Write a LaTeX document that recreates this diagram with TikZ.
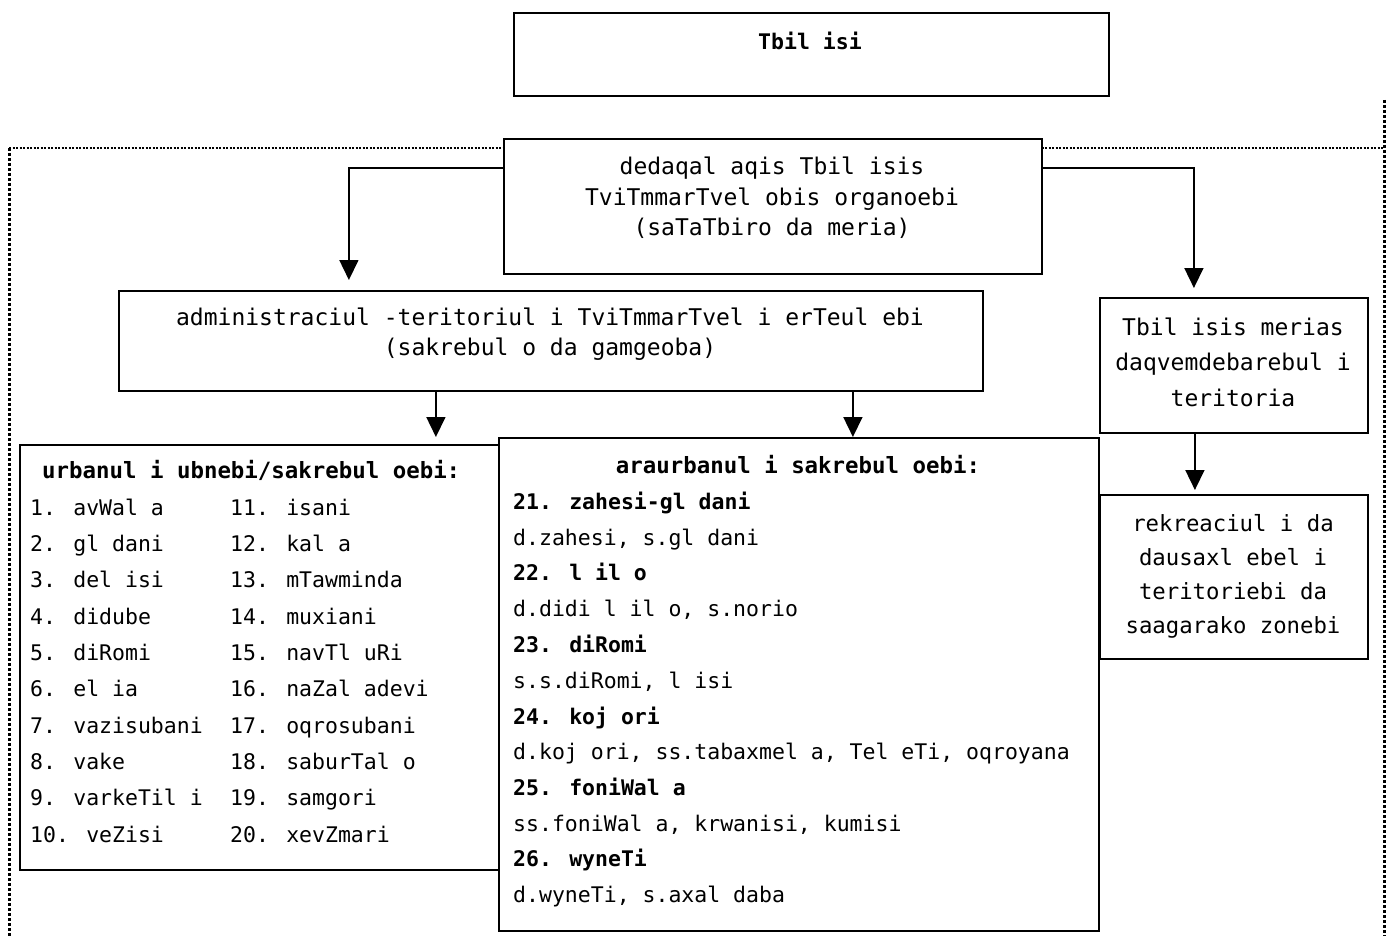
\documentclass[tikz,border=0pt]{standalone}
\usepackage{fontspec}
\setmainfont{DejaVu Sans Mono}
\usetikzlibrary{arrows.meta}
\begin{document}
\begin{tikzpicture}[x=1pt,y=-1pt,
  box/.style={draw,line width=1.8pt,fill=white,inner sep=0pt,anchor=north west},
  arr/.style={line width=1.6pt,-{Triangle[length=20pt,width=19pt]}},
  dotv/.style={line width=3pt,dash pattern=on 3pt off 2pt},
  doth/.style={line width=2.6pt,dash pattern=on 2pt off 1.5pt},
  lst/.style={font=\fontsize{21.5}{26}\selectfont,inner sep=0pt,anchor=base west},
  lstb/.style={font=\fontsize{21.5}{26}\selectfont\bfseries,inner sep=0pt,anchor=base west},
  ctr/.style={align=center,inner sep=0pt},
]
\useasboundingbox (0,0) rectangle (1399,936);

% dotted frame
\draw[doth] (9,148) -- (1384,148);
\draw[dotv] (9,148) -- (9,936);
\draw[dotv] (1384,100) -- (1384,936);

% boxes
\node[box,minimum width=595pt,minimum height=83pt] (city) at (513,12) {};
\node[box,minimum width=538pt,minimum height=135pt] (gov) at (503,138) {};
\node[box,minimum width=864pt,minimum height=100pt] (adm) at (118,290) {};
\node[box,minimum width=268pt,minimum height=135pt] (mer) at (1099,297) {};
\node[box,minimum width=268pt,minimum height=164pt] (rek) at (1099,494) {};
\node[box,minimum width=491pt,minimum height=425pt] (urb) at (19,444) {};
\node[box,minimum width=600pt,minimum height=493pt] (rur) at (498,437) {};

% texts in boxes
\node[font=\fontsize{21.5}{26}\selectfont\bfseries,inner sep=0pt,anchor=base] (citytxt) at (810,50) {Tbil isi};
\node[ctr,font=\fontsize{23}{30.5}\selectfont] (govtxt) at (772,198) {dedaqal aqis Tbil isis\\TviTmmarTvel obis organoebi\\(saTaTbiro da meria)};
\node[ctr,font=\fontsize{23}{29.5}\selectfont] (admtxt) at (550,334) {administraciul -teritoriul i TviTmmarTvel i erTeul ebi\\(sakrebul o da gamgeoba)};
\node[ctr,font=\fontsize{23}{35.5}\selectfont] (mertxt) at (1233,362) {Tbil isis merias\\daqvemdebarebul i\\teritoria};
\node[ctr,font=\fontsize{22.3}{34}\selectfont] (rektxt) at (1233,576) {rekreaciul i da\\dausaxl ebel i\\teritoriebi da\\saagarako zonebi};

% urban list
\node[lstb,font=\fontsize{22.4}{26}\selectfont\bfseries] (urbh) at (42,478) {urbanul i ubnebi/sakrebul oebi:};
\foreach \t [count=\i] in {1. avWal a,2. gl dani,3. del isi,4. didube,5. diRomi,6. el ia,7. vazisubani,8. vake,9. varkeTil i,10. veZisi}
  \node[lst] (ua\i) at (30,{479+36.3*\i}) {\t};
\foreach \t [count=\i] in {11. isani,12. kal a,13. mTawminda,14. muxiani,15. navTl uRi,16. naZal adevi,17. oqrosubani,18. saburTal o,19. samgori,20. xevZmari}
  \node[lst] (ub\i) at (230,{479+36.3*\i}) {\t};

% rural list
\node[lstb,anchor=base,font=\fontsize{22.4}{26}\selectfont\bfseries] (rurh) at (798,473) {araurbanul i sakrebul oebi:};
\node[lstb] (r1) at (513,509) {21. zahesi-gl dani};
\node[lst]  (r2) at (513,545) {d.zahesi, s.gl dani};
\node[lstb] (r3) at (513,580) {22. l il o};
\node[lst]  (r4) at (513,616) {d.didi l il o, s.norio};
\node[lstb] (r5) at (513,652) {23. diRomi};
\node[lst]  (r6) at (513,688) {s.s.diRomi, l isi};
\node[lstb] (r7) at (513,724) {24. koj ori};
\node[lst]  (r8) at (513,759) {d.koj ori, ss.tabaxmel a, Tel eTi, oqroyana};
\node[lstb] (r9) at (513,795) {25. foniWal a};
\node[lst]  (r10) at (513,831) {ss.foniWal a, krwanisi, kumisi};
\node[lstb] (r11) at (513,866) {26. wyneTi};
\node[lst]  (r12) at (513,902) {d.wyneTi, s.axal daba};

% connectors
\coordinate (a1) at ([xshift=-202pt]adm.north);
\coordinate (a2) at ([xshift=-40pt]mer.north);
\coordinate (a3) at ([xshift=-115pt]adm.south);
\coordinate (a4) at ([xshift=302pt]adm.south);
\coordinate (a5) at ([xshift=-39pt]mer.south);
\draw[arr,shorten >=10pt] ([yshift=-30pt]gov.north west) -| (a1);
\draw[arr,shorten >=9pt] ([yshift=-30pt]gov.north east) -| (a2);
\draw[arr,shorten >=7pt] (a3) -- (a3 |- urb.north);
\draw[arr] (a4) -- (a4 |- rur.north);
\draw[arr,shorten >=4pt] (a5) -- (a5 |- rek.north);
\end{tikzpicture}
\end{document}
